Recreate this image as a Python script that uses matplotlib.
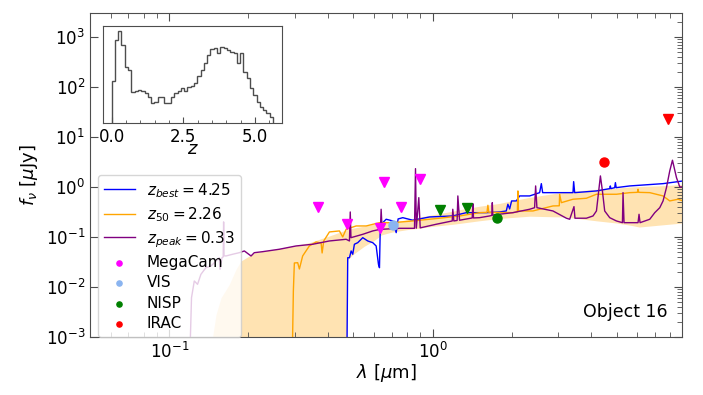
import numpy as np
import matplotlib
matplotlib.use("Agg")
import matplotlib.pyplot as plt
from matplotlib.ticker import MultipleLocator, LogLocator, NullLocator, NullFormatter

# ---------------- data ----------------
# z_peak = 0.33 template (purple)
purple_wl = [0.1200, 0.1215, 0.1245, 0.1281, 0.1319, 0.1378, 0.1441, 0.1483, 0.1549, 0.1559,
             0.1586, 0.1603, 0.1609, 0.1615, 0.1643, 0.1740, 0.1845, 0.1929, 0.2045, 0.2104,
             0.2263, 0.2619, 0.3031, 0.3507, 0.4059, 0.4697, 0.4836, 0.4870, 0.4900, 0.5433,
             0.5929, 0.6341, 0.6380, 0.6436, 0.7491, 0.8542, 0.8617, 0.8680, 0.8870, 0.8980,
             1.033, 1.188, 1.194, 1.205, 1.240, 1.248, 1.267, 1.415, 1.423, 1.431,
             1.509, 1.647, 1.680, 1.687, 1.694, 2.020, 2.338, 2.442, 2.464, 2.492,
             2.867, 3.225, 3.319, 3.446, 3.476, 3.841, 4.070, 4.194, 4.278, 4.342,
             4.419, 4.508, 4.710, 4.994, 5.264, 5.292, 5.339, 6.034, 6.087, 6.141,
             6.686, 6.985, 7.297, 7.510, 7.737, 7.963, 8.154, 8.446, 8.694, 8.901]
purple_f = [0.0006, 0.0061, 0.0132, 0.0113, 0.0179, 0.0243, 0.0263, 0.0306, 0.0385, 0.0226,
            0.0385, 0.040, 0.200, 0.042, 0.0417, 0.0451, 0.0485, 0.0525, 0.0417, 0.0485,
            0.0508, 0.0568, 0.0661, 0.0715, 0.0832, 0.0899, 0.0832, 0.316, 0.0968, 0.113,
            0.132, 0.1426, 0.358, 0.1426, 0.149, 0.149, 2.32, 0.150, 0.611, 0.152,
            0.1795, 0.209, 0.358, 0.209, 0.214, 0.661, 0.216, 0.24, 0.463, 0.24,
            0.243, 0.263, 0.27, 0.485, 0.275, 0.306, 0.358, 0.385, 1.047, 0.385,
            0.331, 0.237, 0.226, 0.404, 0.237, 0.237, 0.263, 0.331, 0.832, 1.66,
            0.832, 0.331, 0.243, 0.209, 0.193, 0.769, 0.193, 0.193, 0.284, 0.193,
            0.226, 0.306, 0.385, 0.525, 0.968, 2.09, 3.42, 1.535, 1.0, 1.0]

# z_best = 4.25 template (blue)
blue_wl = [0.4731, 0.4764, 0.4836, 0.4908, 0.4977, 0.5050, 0.5200, 0.5433, 0.5675, 0.5929,
           0.6108, 0.6233, 0.6288, 0.6325, 0.6380, 0.6668, 0.7064, 0.7278, 0.7400, 0.7710,
           0.8415, 0.9741, 1.194, 1.343, 1.600, 1.798, 1.906, 1.933, 1.963, 1.997,
           2.081, 2.142, 2.338, 2.552, 2.590, 2.620, 2.706, 3.416, 3.436, 3.467,
           4.194, 4.710, 4.735, 4.760, 4.920, 4.950, 4.985, 5.610, 7.510, 8.948]
blue_f = [0.0005, 0.0385, 0.0385, 0.0525, 0.0451, 0.0715, 0.0769, 0.0968, 0.0832, 0.0769,
          0.0661, 0.0284, 0.0243, 0.113, 0.1795, 0.226, 0.209, 0.122, 0.229, 0.243,
          0.216, 0.251, 0.263, 0.306, 0.306, 0.316, 0.331, 0.451, 0.363, 0.525,
          0.525, 0.661, 0.661, 0.769, 1.164, 0.769, 0.769, 0.769, 1.276, 0.769,
          0.832, 0.925, 1.047, 0.925, 0.968, 1.219, 0.968, 1.047, 1.164, 1.318]

# z_50 = 2.26 template (orange)
orange_wl = [0.2935, 0.2961, 0.2987, 0.3075, 0.3121, 0.3212, 0.3405, 0.3612, 0.3774, 0.3808,
             0.3862, 0.4059, 0.4430, 0.4560, 0.4697, 0.5128, 0.5598, 0.6288, 0.7064, 0.8415,
             1.063, 1.267, 1.509, 1.610, 1.623, 1.636, 2.020, 2.100, 2.110, 2.120,
             2.204, 2.407, 2.552, 2.867, 3.030, 3.040, 3.086, 3.416, 3.841, 4.194,
             4.994, 5.610, 6.000, 6.034, 6.070, 6.686, 7.510, 7.963, 8.565, 8.948]
orange_f = [0.0005, 0.0083, 0.0302, 0.0306, 0.0229, 0.0417, 0.0661, 0.0794, 0.0759, 0.0479,
            0.0832, 0.126, 0.132, 0.100, 0.1426, 0.166, 0.166, 0.193, 0.193, 0.209,
            0.237, 0.263, 0.306, 0.31, 0.43, 0.31, 0.306, 0.32, 0.832, 0.33,
            0.331, 0.331, 0.358, 0.417, 0.42, 0.714, 0.485, 0.568, 0.594, 0.714,
            0.714, 0.769, 0.78, 0.899, 0.78, 0.769, 0.661, 0.525, 0.568, 0.525]

# uncertainty band
band_wl = [0.1444, 0.1461, 0.1505, 0.1573, 0.1691, 0.1793, 0.1873, 0.2104, 0.2400, 0.2859,
           0.3405, 0.4059, 0.4731, 0.4732, 0.4760, 0.5000, 0.5500, 0.6000, 0.6400, 0.7000,
           0.8000, 0.8924, 0.9741, 1.20, 1.30, 1.50, 1.80, 1.90, 2.34, 3.20,
           4.20, 5.00, 5.70, 6.10, 7.50, 8.90]
band_hi = [1e-4, 1e-3, 0.0028, 0.0061, 0.0113, 0.0226, 0.0331, 0.048, 0.055, 0.064,
           0.077, 0.105, 0.14, 0.14, 0.142, 0.15, 0.165, 0.18, 0.19, 0.20,
           0.22, 0.25, 0.27, 0.33, 0.36, 0.41, 0.47, 0.50, 0.62, 0.80,
           0.90, 0.95, 1.0, 1.02, 1.06, 1.12]
band_lo = [1e-4, 1e-4, 1e-4, 1e-4, 1e-4, 1e-4, 1e-4, 1e-4, 1e-4, 1e-4,
           1e-4, 1e-4, 1e-4, 0.02, 0.035, 0.045, 0.065, 0.085, 0.11, 0.125,
           0.14, 0.15, 0.16, 0.18, 0.19, 0.21, 0.235, 0.24, 0.26, 0.25,
           0.21, 0.19, 0.17, 0.158, 0.175, 0.19]

# photometry
megacam_wl = [0.366, 0.472, 0.634, 0.653, 0.762, 0.893]
megacam_f = [0.404, 0.18, 0.153, 1.28, 0.40, 1.47]
vis_wl = [0.706]
vis_f = [0.171]
nisp_lim_wl = [1.07, 1.355]
nisp_lim_f = [0.347, 0.375]
nisp_wl = [1.75]
nisp_f = [0.243]
nisp_err = [0.03]
irac_wl = [4.47]
irac_f = [3.2]
irac_err = [0.45]
irac_lim_wl = [7.85]
irac_lim_f = [22.6]

# redshift PDF histogram (inset)
z_edges = np.linspace(0.0, 5.63, 50)
z_counts = [24.3, 646, 1368, 432, 75, 57.5, 10, 11, 11.5, 10.6,
            8.8, 6.7, 4.1, 4.5, 6.4, 6.4, 3.9, 3.9, 6.4, 9.2,
            10.8, 13.8, 10.6, 15, 15.8, 20.1, 35.4, 57.5, 98.6, 193,
            305, 331, 227, 377, 331, 289, 252, 221, 98.6, 221,
            50, 29.5, 13.1, 7.7, 4.5, 3.0, 2.3, 1.75, 1.27]

labels = [r"$z_{best} = 4.25$", r"$z_{50} = 2.26$", r"$z_{peak} = 0.33$"]
phot_labels = ["MegaCam", "VIS", "NISP", "IRAC"]
phot_colors = ["magenta", "#8ab4f0", "green", "red"]

# ---------------- figure ----------------
fig = plt.figure(figsize=(7.03, 3.95), dpi=100)
ax = fig.add_axes([0.128, 0.1468, 0.8428, 0.8203])
ax.set_xscale("log")
ax.set_yscale("log")

ax.fill_between(band_wl, band_lo, band_hi, color="orange", alpha=0.3, lw=0, zorder=1)
l1, = ax.plot(blue_wl, blue_f, color="blue", lw=1.0, zorder=2, label=labels[0])
l2, = ax.plot(orange_wl, orange_f, color="orange", lw=1.0, zorder=2.1, label=labels[1])
l3, = ax.plot(purple_wl, purple_f, color="purple", lw=1.0, zorder=2.2, label=labels[2])

ms = 6.5
ax.plot(megacam_wl, megacam_f, "v", color=phot_colors[0], ms=ms, zorder=5)
ax.plot(vis_wl, vis_f, "o", color=phot_colors[1], ms=ms, zorder=5)
ax.plot(nisp_lim_wl, nisp_lim_f, "v", color=phot_colors[2], ms=ms, zorder=5)
ax.errorbar(nisp_wl, nisp_f, yerr=nisp_err, fmt="o", color=phot_colors[2], ms=ms, capsize=0, zorder=5)
ax.errorbar(irac_wl, irac_f, yerr=irac_err, fmt="o", color=phot_colors[3], ms=ms, capsize=0, zorder=5)
ax.plot(irac_lim_wl, irac_lim_f, "v", color=phot_colors[3], ms=ms, zorder=5)

handles = [l1, l2, l3]
for lab, col in zip(phot_labels, phot_colors):
    handles.append(ax.scatter([], [], color=col, s=14, label=lab))

ax.legend(handles=handles, loc="lower left", bbox_to_anchor=(0.0135, 0.0),
          borderaxespad=0.0, fontsize=11, labelspacing=0.35)

ax.set_xlim(0.05, 8.9)
ax.set_ylim(1e-3, 3000)
ax.yaxis.set_major_locator(LogLocator(base=10, numticks=20))
ax.yaxis.set_minor_locator(LogLocator(base=10, subs=np.arange(2, 10), numticks=100))
ax.yaxis.set_minor_formatter(NullFormatter())
ax.xaxis.set_minor_formatter(NullFormatter())
ax.tick_params(which="both", direction="in", top=True, right=True, color="0.3")
ax.tick_params(which="major", length=6, labelsize=12)
ax.tick_params(which="minor", length=3.5)
ax.tick_params(axis="y", which="minor", left=False)
for s in ax.spines.values():
    s.set_color("0.3")

ax.set_xlabel(r"$\lambda$ [$\mu$m]", fontsize=13, labelpad=0)
ax.set_ylabel(r"$f_\nu$ [$\mu$Jy]", fontsize=13)
ax.text(0.975, 0.062, "Object 16", transform=ax.transAxes, ha="right", va="baseline",
        fontsize=12.5)

# inset
axin = fig.add_axes([0.1465, 0.6886, 0.2546, 0.2456])
axin.stairs(z_counts, z_edges, baseline=0.01, color="0.3", lw=1)
axin.set_yscale("log")
axin.set_ylim(0.8, 2000)
axin.set_xlim(-0.3, 5.94)
axin.yaxis.set_major_locator(NullLocator())
axin.yaxis.set_minor_locator(NullLocator())
axin.set_xticks([0.0, 2.5, 5.0])
axin.xaxis.set_minor_locator(MultipleLocator(0.5))
axin.tick_params(which="both", direction="in", labelsize=12, color="0.3")
axin.tick_params(which="major", length=4)
axin.tick_params(which="minor", length=2.5)
for s in axin.spines.values():
    s.set_color("0.3")
axin.set_xlabel(r"$z$", fontsize=13, labelpad=-4)

fig.savefig("out.png", dpi=100)
